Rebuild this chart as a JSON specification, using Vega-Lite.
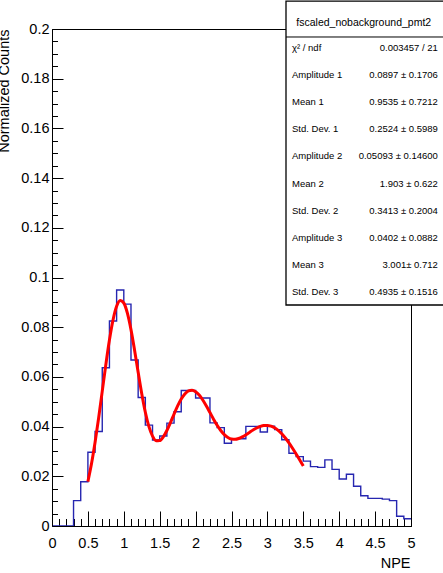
{
  "$schema": "https://vega.github.io/schema/vega-lite/v6.json",
  "width": 359,
  "height": 497,
  "autosize": "none",
  "padding": {"left": 52, "top": 29, "right": 32, "bottom": 47},
  "background": "white",
  "config": {
    "view": {"stroke": "#000", "strokeWidth": 1},
    "font": "Liberation Sans",
    "axis": {
      "grid": false, "domain": false,
      "labelFont": "Liberation Sans", "titleFont": "Liberation Sans",
      "labelColor": "#000", "titleColor": "#000", "tickColor": "#000",
      "labelFlush": false, "labelOverlap": false, "labelBound": false,
      "titleFontWeight": "normal"
    }
  },
  "datasets": {
    "hist": [
      {"npe": 0.0, "counts": 0}, {"npe": 0.1, "counts": 0}, {"npe": 0.2, "counts": 0},
      {"npe": 0.3, "counts": 0.0102}, {"npe": 0.4, "counts": 0.0178}, {"npe": 0.5, "counts": 0.0297},
      {"npe": 0.6, "counts": 0.0380}, {"npe": 0.7, "counts": 0.0637}, {"npe": 0.8, "counts": 0.0825},
      {"npe": 0.9, "counts": 0.0950}, {"npe": 1.0, "counts": 0.0893}, {"npe": 1.1, "counts": 0.0668},
      {"npe": 1.2, "counts": 0.0517}, {"npe": 1.3, "counts": 0.0406}, {"npe": 1.4, "counts": 0.0346},
      {"npe": 1.5, "counts": 0.0362}, {"npe": 1.6, "counts": 0.0414}, {"npe": 1.7, "counts": 0.0460},
      {"npe": 1.8, "counts": 0.0545}, {"npe": 1.9, "counts": 0.0545}, {"npe": 2.0, "counts": 0.0515},
      {"npe": 2.1, "counts": 0.0515}, {"npe": 2.2, "counts": 0.0415}, {"npe": 2.3, "counts": 0.0396},
      {"npe": 2.4, "counts": 0.0333}, {"npe": 2.5, "counts": 0.0351}, {"npe": 2.6, "counts": 0.0351},
      {"npe": 2.7, "counts": 0.0401}, {"npe": 2.8, "counts": 0.0401}, {"npe": 2.9, "counts": 0.0378},
      {"npe": 3.0, "counts": 0.0402}, {"npe": 3.1, "counts": 0.0388}, {"npe": 3.2, "counts": 0.0347},
      {"npe": 3.3, "counts": 0.0293}, {"npe": 3.4, "counts": 0.0279}, {"npe": 3.5, "counts": 0.0261},
      {"npe": 3.6, "counts": 0.0239}, {"npe": 3.7, "counts": 0.0236}, {"npe": 3.8, "counts": 0.0266},
      {"npe": 3.9, "counts": 0.0228}, {"npe": 4.0, "counts": 0.0189}, {"npe": 4.1, "counts": 0.0208},
      {"npe": 4.2, "counts": 0.0160}, {"npe": 4.3, "counts": 0.0122}, {"npe": 4.4, "counts": 0.0111},
      {"npe": 4.5, "counts": 0.0111}, {"npe": 4.6, "counts": 0.0108}, {"npe": 4.7, "counts": 0.0102},
      {"npe": 4.8, "counts": 0.0039}, {"npe": 4.9, "counts": 0.0029}, {"npe": 5.0, "counts": 0.0029}
    ],
    "fit": [
      {"npe": 0.5, "fit": 0.01787}, {"npe": 0.55, "fit": 0.02501}, {"npe": 0.6, "fit": 0.03368},
      {"npe": 0.65, "fit": 0.04359}, {"npe": 0.7, "fit": 0.05427}, {"npe": 0.75, "fit": 0.06498},
      {"npe": 0.8, "fit": 0.07483}, {"npe": 0.85, "fit": 0.08291}, {"npe": 0.9, "fit": 0.08839},
      {"npe": 0.95, "fit": 0.09073}, {"npe": 1.0, "fit": 0.08974}, {"npe": 1.05, "fit": 0.08564},
      {"npe": 1.1, "fit": 0.07902}, {"npe": 1.15, "fit": 0.07075}, {"npe": 1.2, "fit": 0.06183},
      {"npe": 1.25, "fit": 0.05323}, {"npe": 1.3, "fit": 0.04576}, {"npe": 1.35, "fit": 0.03997},
      {"npe": 1.4, "fit": 0.03616}, {"npe": 1.45, "fit": 0.03435}, {"npe": 1.5, "fit": 0.03436},
      {"npe": 1.55, "fit": 0.03586}, {"npe": 1.6, "fit": 0.03843}, {"npe": 1.65, "fit": 0.04164},
      {"npe": 1.7, "fit": 0.04505}, {"npe": 1.75, "fit": 0.04830}, {"npe": 1.8, "fit": 0.05107},
      {"npe": 1.85, "fit": 0.05313}, {"npe": 1.9, "fit": 0.05435}, {"npe": 1.95, "fit": 0.05465},
      {"npe": 2.0, "fit": 0.05407}, {"npe": 2.05, "fit": 0.05270}, {"npe": 2.1, "fit": 0.05071},
      {"npe": 2.15, "fit": 0.04829}, {"npe": 2.2, "fit": 0.04565}, {"npe": 2.25, "fit": 0.04300},
      {"npe": 2.3, "fit": 0.04055}, {"npe": 2.35, "fit": 0.03844}, {"npe": 2.4, "fit": 0.03679},
      {"npe": 2.45, "fit": 0.03565}, {"npe": 2.5, "fit": 0.03504}, {"npe": 2.55, "fit": 0.03492},
      {"npe": 2.6, "fit": 0.03523}, {"npe": 2.65, "fit": 0.03586}, {"npe": 2.7, "fit": 0.03671},
      {"npe": 2.75, "fit": 0.03766}, {"npe": 2.8, "fit": 0.03861}, {"npe": 2.85, "fit": 0.03945},
      {"npe": 2.9, "fit": 0.04008}, {"npe": 2.95, "fit": 0.04045}, {"npe": 3.0, "fit": 0.04049},
      {"npe": 3.05, "fit": 0.04018}, {"npe": 3.1, "fit": 0.03951}, {"npe": 3.15, "fit": 0.03847},
      {"npe": 3.2, "fit": 0.03710}, {"npe": 3.25, "fit": 0.03542}, {"npe": 3.3, "fit": 0.03347},
      {"npe": 3.35, "fit": 0.03131}, {"npe": 3.4, "fit": 0.02900}, {"npe": 3.45, "fit": 0.02658},
      {"npe": 3.5, "fit": 0.02411}
    ],
    "statsbox": [{"title": "fscaled_nobackground_pmt2"}],
    "stats": [
      {"row": 1, "label": "χ² / ndf", "value": "0.003457 / 21"},
      {"row": 2, "label": "Amplitude 1", "value": "0.0897 ± 0.1706"},
      {"row": 3, "label": "Mean 1", "value": "0.9535 ± 0.7212"},
      {"row": 4, "label": "Std. Dev. 1", "value": "0.2524 ± 0.5989"},
      {"row": 5, "label": "Amplitude 2", "value": "0.05093 ± 0.14600"},
      {"row": 6, "label": "Mean 2", "value": "1.903 ± 0.622"},
      {"row": 7, "label": "Std. Dev. 2", "value": "0.3413 ± 0.2004"},
      {"row": 8, "label": "Amplitude 3", "value": "0.0402 ± 0.0882"},
      {"row": 9, "label": "Mean 3", "value": "3.001± 0.712"},
      {"row": 10, "label": "Std. Dev. 3", "value": "0.4935 ± 0.1516"}
    ]
  },
  "resolve": {
    "scale": {"x": "independent", "y": "independent"},
    "axis": {"x": "independent", "y": "independent"}
  },
  "layer": [
    {
      "data": {"name": "hist"},
      "mark": {"type": "point", "opacity": 0, "size": 1},
      "encoding": {
        "x": {"field": "npe", "type": "quantitative",
          "scale": {"domain": [0, 5], "nice": false, "zero": false},
          "axis": {"orient": "bottom", "values": [0,0.1,0.2,0.3,0.4,0.5,0.6,0.7,0.8,0.9,1,1.1,1.2,1.3,1.4,1.5,1.6,1.7,1.8,1.9,2,2.1,2.2,2.3,2.4,2.5,2.6,2.7,2.8,2.9,3,3.1,3.2,3.3,3.4,3.5,3.6,3.7,3.8,3.9,4,4.1,4.2,4.3,4.4,4.5,4.6,4.7,4.8,4.9,5],
            "labels": false, "ticks": true, "tickSize": -7.5, "tickWidth": 1, "title": null, "domain": false}},
        "y": {"field": "counts", "type": "quantitative",
          "scale": {"domain": [0, 0.2], "nice": false, "zero": false},
          "axis": {"orient": "left", "values": [0,0.005,0.01,0.015,0.02,0.025,0.03,0.035,0.04,0.045,0.05,0.055,0.06,0.065,0.07,0.075,0.08,0.085,0.09,0.095,0.1,0.105,0.11,0.115,0.12,0.125,0.13,0.135,0.14,0.145,0.15,0.155,0.16,0.165,0.17,0.175,0.18,0.185,0.19,0.195,0.2],
            "labels": false, "ticks": true, "tickSize": -5.5, "tickWidth": 1, "title": null, "domain": false}}
      }
    },
    {
      "data": {"name": "hist"},
      "mark": {"type": "line", "interpolate": "step-after", "color": "#2626b0", "strokeWidth": 1.4},
      "encoding": {
        "x": {"field": "npe", "type": "quantitative",
          "scale": {"domain": [0, 5], "nice": false, "zero": false},
          "axis": {"orient": "bottom", "values": [0,0.5,1,1.5,2,2.5,3,3.5,4,4.5,5], "format": "~g",
            "ticks": false, "domain": true, "domainColor": "#000", "domainWidth": 1, "zindex": 1,
            "labelFontSize": 14.5, "labelPadding": 10, "labelBaseline": "top",
            "title": "NPE", "titleFontSize": 14.5, "titleAnchor": "end", "titleAlign": "right",
            "titleX": 358, "titleY": 41, "titleBaseline": "alphabetic"}},
        "y": {"field": "counts", "type": "quantitative",
          "scale": {"domain": [0, 0.2], "nice": false, "zero": false},
          "axis": {"orient": "left", "values": [0,0.02,0.04,0.06,0.08,0.1,0.12,0.14,0.16,0.18,0.2], "format": "~g",
            "ticks": false, "domain": true, "domainColor": "#000", "domainWidth": 1, "zindex": 1,
            "labelFontSize": 14.5, "labelPadding": 3, "labelBaseline": "middle",
            "title": "Normalized Counts", "titleFontSize": 14.5, "titleAngle": -90, "titleAlign": "right",
            "titleX": -44, "titleY": 0, "titleBaseline": "alphabetic"}}
      }
    },
    {
      "data": {"name": "fit"},
      "mark": {"type": "line", "interpolate": "monotone", "color": "#ff0000", "strokeWidth": 3},
      "encoding": {
        "x": {"field": "npe", "type": "quantitative",
          "scale": {"domain": [0, 5], "nice": false, "zero": false},
          "axis": {"orient": "bottom", "values": [0,0.5,1,1.5,2,2.5,3,3.5,4,4.5,5], "labels": false, "ticks": true,
            "tickSize": -15, "tickWidth": 1, "title": null, "domain": false}},
        "y": {"field": "fit", "type": "quantitative",
          "scale": {"domain": [0, 0.2], "nice": false, "zero": false},
          "axis": {"orient": "left", "values": [0,0.02,0.04,0.06,0.08,0.1,0.12,0.14,0.16,0.18,0.2], "labels": false, "ticks": true,
            "tickSize": -11, "tickWidth": 1, "title": null, "domain": false}}
      }
    },
    {
      "layer": [
        {
          "data": {"name": "statsbox"},
          "mark": {"type": "rect", "fill": "white", "stroke": "#000", "strokeWidth": 1.3, "clip": false},
          "encoding": {
            "x": {"datum": 0, "type": "quantitative", "scale": {"domain": [0, 1], "range": [234, 392], "nice": false, "zero": false}, "axis": null},
            "x2": {"datum": 1.05},
            "y": {"datum": -0.73, "type": "quantitative", "scale": {"domain": [1, 10], "range": [19, 263], "nice": false, "zero": false}, "axis": null},
            "y2": {"datum": 10.48}
          }
        },
        {
          "data": {"name": "statsbox"},
          "mark": {"type": "rule", "stroke": "#000", "strokeWidth": 1, "clip": false},
          "encoding": {
            "x": {"datum": 0, "type": "quantitative", "scale": {"domain": [0, 1], "range": [234, 392], "nice": false, "zero": false}, "axis": null},
            "x2": {"datum": 1.05},
            "y": {"datum": 0.594, "type": "quantitative", "scale": {"domain": [1, 10], "range": [19, 263], "nice": false, "zero": false}, "axis": null}
          }
        },
        {
          "data": {"name": "statsbox"},
          "mark": {"type": "text", "fontSize": 10.5, "font": "Liberation Sans", "align": "center", "baseline": "middle", "color": "#000", "clip": false},
          "encoding": {
            "x": {"datum": 0.492, "type": "quantitative", "scale": {"domain": [0, 1], "range": [234, 392], "nice": false, "zero": false}, "axis": null},
            "y": {"datum": 0.078, "type": "quantitative", "scale": {"domain": [1, 10], "range": [19, 263], "nice": false, "zero": false}, "axis": null},
            "text": {"field": "title"}
          }
        },
        {
          "data": {"name": "stats"},
          "mark": {"type": "text", "fontSize": 9.5, "font": "Liberation Sans", "align": "left", "baseline": "middle", "color": "#000", "clip": false},
          "encoding": {
            "x": {"datum": 0.038, "type": "quantitative", "scale": {"domain": [0, 1], "range": [234, 392], "nice": false, "zero": false}, "axis": null},
            "y": {"field": "row", "type": "quantitative", "scale": {"domain": [1, 10], "range": [19, 263], "nice": false, "zero": false}, "axis": null},
            "text": {"field": "label"}
          }
        },
        {
          "data": {"name": "stats"},
          "mark": {"type": "text", "fontSize": 9.5, "font": "Liberation Sans", "align": "right", "baseline": "middle", "color": "#000", "clip": false},
          "encoding": {
            "x": {"datum": 0.961, "type": "quantitative", "scale": {"domain": [0, 1], "range": [234, 392], "nice": false, "zero": false}, "axis": null},
            "y": {"field": "row", "type": "quantitative", "scale": {"domain": [1, 10], "range": [19, 263], "nice": false, "zero": false}, "axis": null},
            "text": {"field": "value"}
          }
        }
      ]
    }
  ]
}
